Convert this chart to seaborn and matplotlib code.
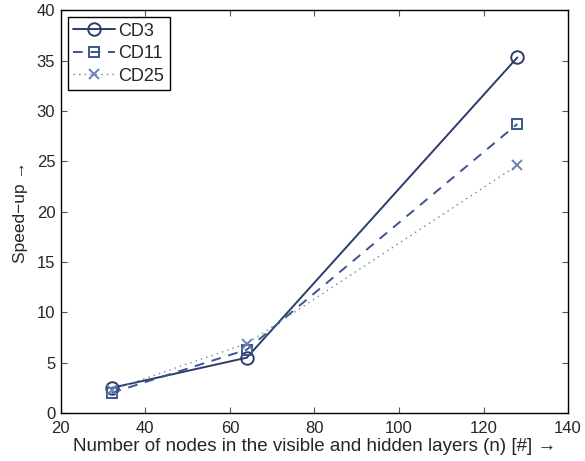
import matplotlib
matplotlib.use("Agg")
import matplotlib.pyplot as plt
import seaborn as sns
import pandas as pd

nodes = [32, 64, 128]
cd3 = [2.5, 5.5, 35.3]
cd11 = [2.0, 6.3, 28.7]
cd25 = [2.3, 6.9, 24.6]
series_names = ["CD3", "CD11", "CD25"]

df = pd.DataFrame({
    "n": nodes * 3,
    "speedup": cd3 + cd11 + cd25,
    "series": [s for s in series_names for _ in nodes],
})

sns.set_style("ticks")
plt.rcParams['font.family'] = ['Liberation Sans', 'DejaVu Sans']
plt.rcParams['font.size'] = 12

fig = plt.figure(figsize=(5.85, 4.61), dpi=100)
ax = fig.add_axes([0.104, 0.104, 0.867, 0.874])

colors = {"CD3": "#2b3d68", "CD11": "#3a5590", "CD25": "#6a82b8"}
styles = {"CD3": dict(ls="-", marker="o", ms=9, mfc="none", lw=1.4),
          "CD11": dict(ls=(0, (5, 4)), marker="s", ms=7.5, mfc="none", lw=1.4),
          "CD25": dict(ls=(0, (1, 3)), marker="x", ms=6.5, lw=1.0)}

for name in series_names:
    sub = df[df.series == name]
    sns.lineplot(data=sub, x="n", y="speedup", ax=ax, color=colors[name],
                 label=name, mec=colors[name], mew=1.4, **styles[name])

ax.set_xlim(20, 140)
ax.set_ylim(0, 40)
ax.set_xticks(range(20, 141, 20))
ax.set_yticks(range(0, 41, 5))
ax.tick_params(direction="in", top=True, right=True, length=4, labelsize=12, color="#555555")
ax.tick_params(axis="x", pad=6)
ax.tick_params(axis="y", pad=4)
for s in ax.spines.values():
    s.set_linewidth(1.0)
    s.set_color("black")
ax.set_xlabel("Number of nodes in the visible and hidden layers (n) [#] \u2192", fontsize=13.5, labelpad=1.5)
ax.set_ylabel("Speed\u2212up \u2192", fontsize=12.5, labelpad=6)
leg = ax.legend(loc="upper left", fancybox=False, frameon=True, edgecolor="black",
                fontsize=13, handlelength=2.3, borderpad=0.3, labelspacing=0.3,
                handletextpad=0.2, borderaxespad=0.4)
leg.get_frame().set_linewidth(1.0)
leg.get_frame().set_alpha(1)

fig.savefig("out.png", dpi=100)
